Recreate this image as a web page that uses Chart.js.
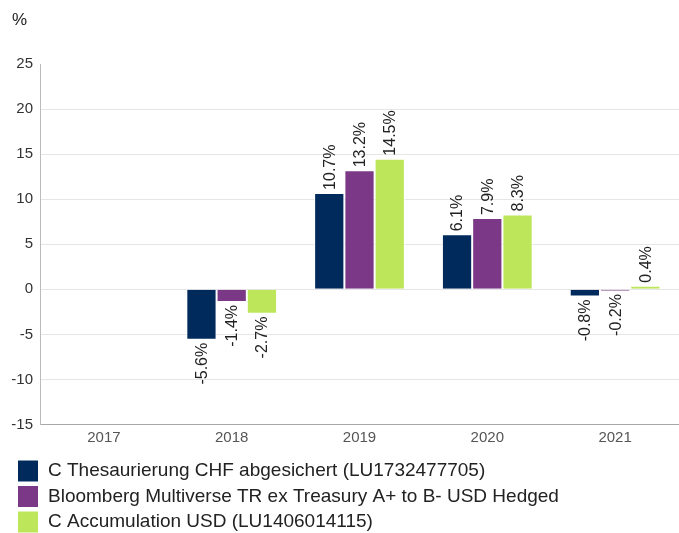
<!DOCTYPE html>
<html>
<head>
<meta charset="utf-8">
<script src="https://cdn.jsdelivr.net/npm/chart.js@4.4.0/dist/chart.umd.min.js"></script>
<style>
  html,body{margin:0;padding:0;background:#fff;}
  #wrap{width:679px;height:533px;position:relative;}
</style>
</head>
<body>
<div id="wrap"><canvas id="chart"></canvas></div>
<script>
const years = ["2017","2018","2019","2020","2021"];
const seriesNames = [
  "C Thesaurierung CHF abgesichert (LU1732477705)",
  "Bloomberg Multiverse TR ex Treasury A+ to B- USD Hedged",
  "C Accumulation USD (LU1406014115)"
];
const chfValues   = [null, -5.6, 10.7, 6.1, -0.8];
const benchValues = [null, -1.4, 13.2, 7.9, -0.2];
const usdValues   = [null, -2.7, 14.5, 8.3, 0.4];
const colors = ["#002a5c", "#7b3886", "#bee65b"];
const FONT = "'Liberation Sans', Arial, sans-serif";

// rotated value labels on top / under each bar
const barLabels = {
  id: "barLabels",
  afterDatasetsDraw(chart){
    const ctx = chart.ctx;
    ctx.save();
    ctx.font = "16px " + FONT;
    ctx.fillStyle = "#222";
    ctx.textBaseline = "middle";
    chart.data.datasets.forEach((ds, di) => {
      const meta = chart.getDatasetMeta(di);
      meta.data.forEach((bar, i) => {
        const v = ds.data[i];
        if (v === null || v === undefined) return;
        const txt = v.toFixed(1) + "%";
        ctx.save();
        ctx.translate(bar.x, v >= 0 ? bar.y - 3 : bar.y + 3);
        ctx.rotate(-Math.PI/2);
        ctx.textAlign = v >= 0 ? "left" : "right";
        ctx.fillText(txt, 0, 1);
        ctx.restore();
      });
    });
    ctx.restore();
  }
};

const unitLabel = {
  id: "unitLabel",
  afterLayout(chart){
    // legend sits a bit in from the left edge
    if (chart.legend) chart.legend.left = 14;
  },
  afterDraw(chart){
    const ctx = chart.ctx;
    ctx.save();
    ctx.font = "17px " + FONT;
    ctx.fillStyle = "#222";
    ctx.textBaseline = "middle";
    ctx.fillText("%", 12, 20);
    ctx.restore();
  }
};

const datasets = [chfValues, benchValues, usdValues].map((vals, k) => ({
  label: seriesNames[k],
  data: vals,
  backgroundColor: colors[k],
  borderColor: "#ffffff",
  borderWidth: 1,
  categoryPercentage: 0.71,
  barPercentage: 1.0
}));

new Chart(document.getElementById("chart"), {
  type: "bar",
  data: { labels: years, datasets },
  options: {
    responsive: true,
    maintainAspectRatio: false,
    animation: false,
    layout: { padding: { left: 0, right: 0, top: 64, bottom: -10 } },
    plugins: {
      tooltip: { enabled: false },
      legend: {
        position: "bottom",
        align: "start",
        labels: {
          font: { size: 19, family: FONT },
          color: "#222",
          boxWidth: 21,
          boxHeight: 22,
          padding: 3.5
        }
      }
    },
    scales: {
      x: {
        afterFit(scale){ scale.height = 32; },
        grid: { display: false, drawTicks: false },
        border: { color: "#a8a8a8" },
        ticks: { color: "#555", font: { size: 15, family: FONT }, padding: 4 }
      },
      y: {
        min: -15, max: 25,
        afterFit(scale){ scale.width = 40; },
        ticks: { stepSize: 5, color: "#333", font: { size: 15, family: FONT }, padding: 7 },
        grid: { color: ctx => ctx.tick && ctx.tick.value === 25 ? "rgba(0,0,0,0)" : "#e6e6e6", drawTicks: false },
        border: { color: "#bbbbbb" }
      }
    }
  },
  plugins: [barLabels, unitLabel]
});
</script>
</body>
</html>
